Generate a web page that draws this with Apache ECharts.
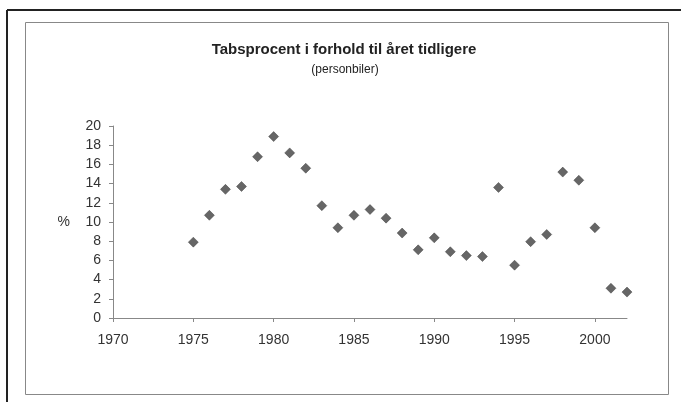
<!DOCTYPE html>
<html>
<head>
<meta charset="utf-8">
<script src="https://cdn.jsdelivr.net/npm/echarts@6/dist/echarts.min.js"></script>
<style>
html,body{margin:0;padding:0;background:#fff;}
#c{width:681px;height:402px;}
</style>
</head>
<body>
<div id="c"></div>
<script>
var years = [1975,1976,1977,1978,1979,1980,1981,1982,1983,1984,1985,1986,1987,1988,1989,1990,1991,1992,1993,1994,1995,1996,1997,1998,1999,2000,2001,2002];
var values = [7.9,10.7,13.4,13.7,16.8,18.9,17.2,15.6,11.7,9.4,10.7,11.3,10.4,8.85,7.1,8.35,6.9,6.5,6.4,13.6,5.5,7.95,8.7,15.2,14.35,9.4,3.1,2.7];
var xTicks = [1970,1975,1980,1985,1990,1995,2000];
var title = 'Tabsprocent i forhold til året tidligere';
var subtitle = '(personbiler)';

var FONT = 'Liberation Sans, Arial, sans-serif';
var chart = echarts.init(document.getElementById('c'), null, {renderer:'canvas'});
var data = years.map(function(y,i){return [y, values[i]];});
chart.setOption({
  backgroundColor:'#fff',
  animation:false,
  grid:{left:113, right:54, top:126, bottom:84, containLabel:false},
  xAxis:{
    type:'value', min:1970, max:2002,
    axisLine:{show:true, lineStyle:{color:'#888', width:1}},
    axisTick:{show:true, length:4, inside:false, customValues:xTicks, lineStyle:{color:'#888'}},
    axisLabel:{customValues:xTicks, formatter:function(v){return String(v);}, color:'#333', fontSize:14, fontFamily:FONT, margin:15},
    splitLine:{show:false}
  },
  yAxis:{
    type:'value', min:0, max:20, interval:2,
    name:'%', nameLocation:'middle', nameRotate:0, nameGap:43,
    nameTextStyle:{color:'#333', fontSize:14, fontFamily:FONT},
    axisLine:{show:true, lineStyle:{color:'#888', width:1}},
    axisTick:{show:true, length:4, lineStyle:{color:'#888'}},
    axisLabel:{color:'#333', fontSize:14, fontFamily:FONT, margin:12},
    splitLine:{show:false}
  },
  series:[{
    type:'scatter', data:data, symbol:'diamond', symbolSize:10,
    itemStyle:{color:'#404040', borderColor:'#2a2a2a', borderWidth:0.5}
  }],
  graphic:[
    {type:'line', shape:{x1:7, y1:10, x2:681, y2:10}, style:{stroke:'#222', lineWidth:2}},
    {type:'line', shape:{x1:7, y1:10, x2:7, y2:402}, style:{stroke:'#222', lineWidth:2}},
    {type:'rect', shape:{x:25.5, y:22.5, width:643, height:372}, style:{fill:null, stroke:'#888', lineWidth:1}},
    {type:'text', x:344, y:50, style:{text:title, textAlign:'center', textVerticalAlign:'middle', font:'bold 15px ' + FONT, fill:'#222'}},
    {type:'text', x:345, y:70, style:{text:subtitle, textAlign:'center', textVerticalAlign:'middle', font:'12px ' + FONT, fill:'#222'}}
  ]
});
</script>
</body>
</html>
